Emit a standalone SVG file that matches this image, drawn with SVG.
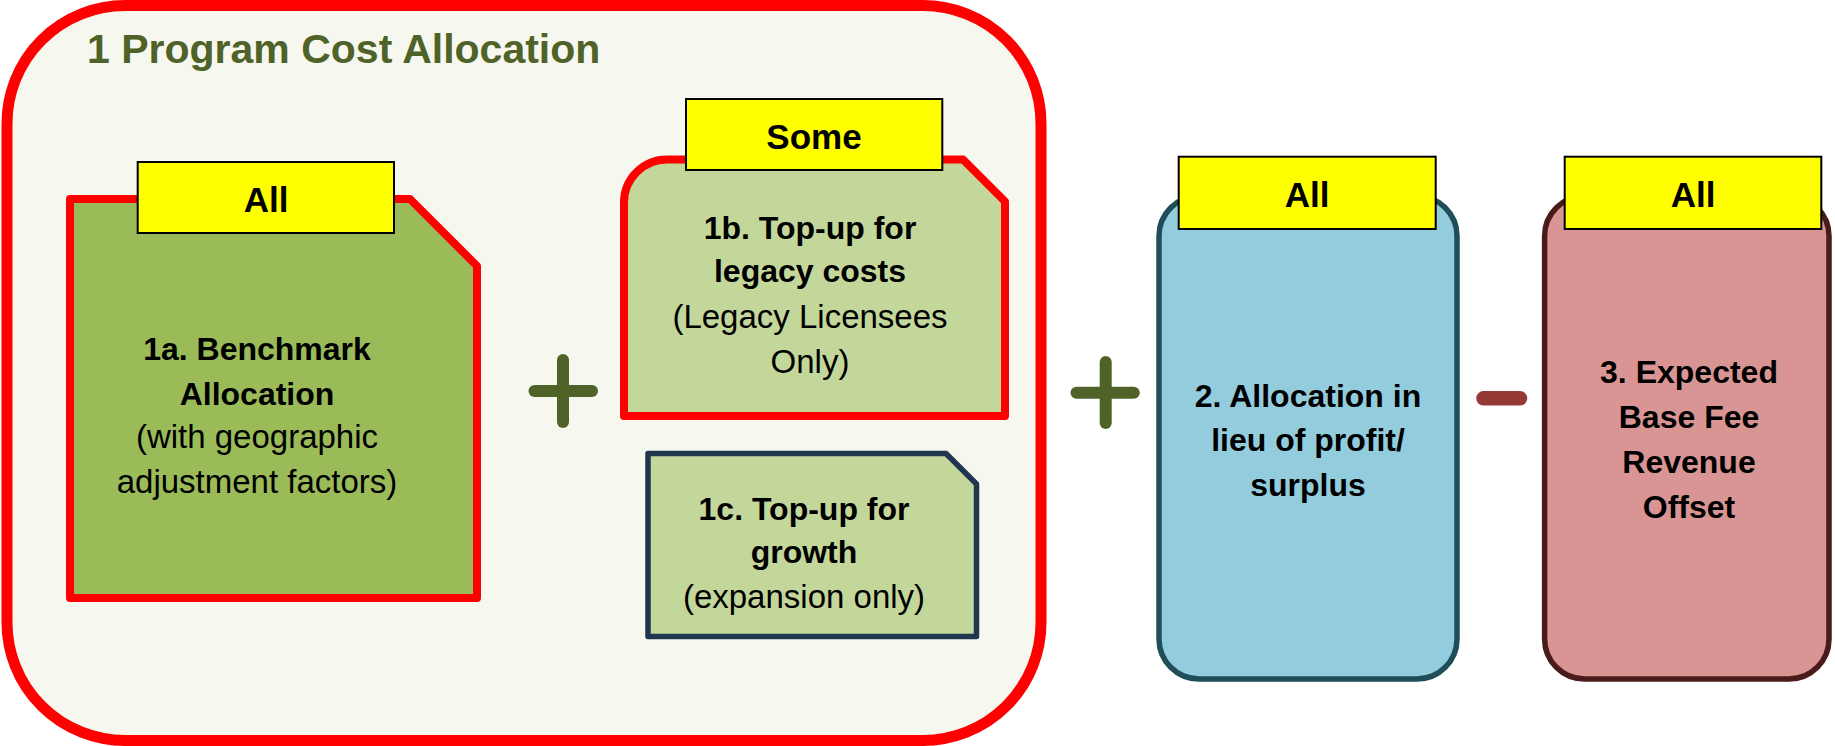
<svg xmlns="http://www.w3.org/2000/svg" width="1835" height="746" viewBox="0 0 1835 746">
  <style>
    text { font-family: "Liberation Sans", Arial, sans-serif; fill: #000; text-anchor: middle; }
    .b { font-weight: bold; font-size: 32px; }
    .r { font-size: 33px; }
    .tag rect { fill: #FFFF00; stroke: #000; stroke-width: 2; }
    .tag text { font-weight: bold; font-size: 35px; }
    .op { stroke-linecap: round; fill: none; }
  </style>

  <!-- program cost allocation container -->
  <g id="program-cost-allocation">
    <rect x="7" y="5.5" width="1034" height="735" rx="118" ry="118" fill="#F6F7EF" stroke="#FF0000" stroke-width="11"/>
    <text x="87" y="63" style="text-anchor:start;font-weight:bold;font-size:41px;fill:#4F6228">1 Program Cost Allocation</text>
  </g>

  <!-- 1a benchmark allocation -->
  <g id="node-1a">
    <path d="M70,199 L410,199 L477,266 L477,598 L70,598 Z" fill="#9BBB59" stroke="#FF0000" stroke-width="8" stroke-linejoin="round"/>
    <text class="b" x="257" y="360">1a. Benchmark</text>
    <text class="b" x="257" y="405">Allocation</text>
    <text class="r" x="257" y="448">(with geographic</text>
    <text class="r" x="257" y="493">adjustment factors)</text>
    <g class="tag">
      <rect x="137.7" y="162" width="256.3" height="71"/>
      <text x="266" y="212">All</text>
    </g>
  </g>

  <!-- 1b legacy top-up -->
  <g id="node-1b">
    <path d="M624,416 L624,202.5 A43,43 0 0 1 667,159.5 L963,159.5 L1005,201.5 L1005,416 Z" fill="#C4D79B" stroke="#FF0000" stroke-width="8" stroke-linejoin="round"/>
    <text class="b" x="810" y="239">1b. Top-up for</text>
    <text class="b" x="810" y="282">legacy costs</text>
    <text class="r" x="810" y="328">(Legacy Licensees</text>
    <text class="r" x="810" y="373">Only)</text>
    <g class="tag">
      <rect x="686" y="99" width="256.3" height="71"/>
      <text x="814" y="148.5">Some</text>
    </g>
  </g>

  <!-- 1c growth top-up -->
  <g id="node-1c">
    <path d="M648,453.5 L946,453.5 L976.5,484 L976.5,636.5 L648,636.5 Z" fill="#C4D79B" stroke="#1F3550" stroke-width="5.5" stroke-linejoin="round"/>
    <text class="b" x="804" y="520">1c. Top-up for</text>
    <text class="b" x="804" y="563">growth</text>
    <text class="r" x="804" y="608">(expansion only)</text>
  </g>

  <!-- 2 allocation in lieu of profit -->
  <g id="node-2">
    <rect x="1159" y="196" width="298" height="483" rx="40" ry="40" fill="#93CDDD" stroke="#1F4D5A" stroke-width="5.5"/>
    <text class="b" x="1308" y="406.5">2. Allocation in</text>
    <text class="b" x="1308" y="451">lieu of profit/</text>
    <text class="b" x="1308" y="495.5">surplus</text>
    <g class="tag">
      <rect x="1178.7" y="156.7" width="257" height="72.3"/>
      <text x="1307" y="206.7">All</text>
    </g>
  </g>

  <!-- 3 base fee revenue offset -->
  <g id="node-3">
    <rect x="1544.6" y="196" width="284.4" height="483" rx="40" ry="40" fill="#D99594" stroke="#4A1B1B" stroke-width="5.5"/>
    <text class="b" x="1689" y="383">3. Expected</text>
    <text class="b" x="1689" y="428">Base Fee</text>
    <text class="b" x="1689" y="473">Revenue</text>
    <text class="b" x="1689" y="518">Offset</text>
    <g class="tag">
      <rect x="1564.7" y="156.7" width="256.6" height="72.3"/>
      <text x="1693" y="206.7">All</text>
    </g>
  </g>

  <!-- plus / minus operators between the terms -->
  <g id="connectors">
    <g class="op" stroke="#4F6228" stroke-width="12">
      <line x1="563" y1="360" x2="563" y2="422"/>
      <line x1="534.5" y1="391" x2="592" y2="391"/>
      <line x1="1105.7" y1="362" x2="1105.7" y2="423"/>
      <line x1="1076.5" y1="392.7" x2="1133.8" y2="392.7"/>
    </g>
    <line class="op" x1="1483.5" y1="398.3" x2="1520" y2="398.3" stroke="#953735" stroke-width="14.5"/>
  </g>
</svg>
